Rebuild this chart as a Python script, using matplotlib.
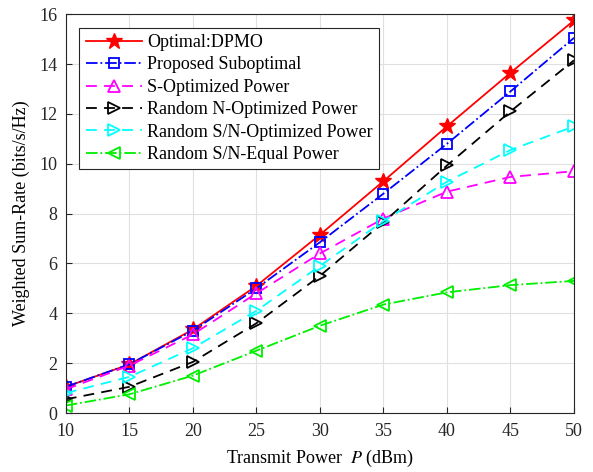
import numpy as np
import matplotlib.pyplot as plt

plt.rcParams['font.family'] = ['Liberation Serif', 'DejaVu Serif']
plt.rcParams['mathtext.fontset'] = 'stix'

power = [10, 15, 20, 25, 30, 35, 40, 45, 50]
optimal = [1.05, 1.95, 3.35, 5.1, 7.15, 9.3, 11.5, 13.65, 15.75]
proposed = [1.05, 1.95, 3.3, 5.0, 6.85, 8.8, 10.8, 12.9, 15.05]
s_opt = [0.95, 1.9, 3.15, 4.8, 6.4, 7.8, 8.88, 9.47, 9.7]
rand_n_opt = [0.55, 1.05, 2.05, 3.6, 5.5, 7.65, 9.93, 12.1, 14.15]
rand_sn_opt = [0.8, 1.45, 2.6, 4.1, 5.9, 7.7, 9.28, 10.55, 11.5]
rand_sn_equal = [0.3, 0.75, 1.5, 2.5, 3.5, 4.35, 4.84, 5.13, 5.3]

fig = plt.figure(figsize=(5.93, 4.72), dpi=100)
ax = fig.add_axes([0.111, 0.125, 0.857, 0.845])

ax.plot(power, optimal, '-', color='red', marker='*', markersize=12, lw=1.3,
        label='Optimal:DPMO')
ax.plot(power, proposed, '-.', color='blue', marker='s', markersize=7, lw=1.3,
        mfc='none', mew=1.3, label='Proposed Suboptimal')
ax.plot(power, s_opt, '--', color='magenta', marker='^', markersize=9, lw=1.3,
        mfc='none', mew=1.3, dashes=(6, 4), label='S-Optimized Power')
ax.plot(power, rand_n_opt, '--', color='black', marker='>', markersize=9, lw=1.3,
        mfc='none', mew=1.3, dashes=(6, 4), label='Random N-Optimized Power')
ax.plot(power, rand_sn_opt, '--', color='cyan', marker='>', markersize=9, lw=1.3,
        mfc='none', mew=1.3, dashes=(6, 4), label='Random S/N-Optimized Power')
ax.plot(power, rand_sn_equal, '-.', color='#00ee00', marker='<', markersize=9, lw=1.3,
        mfc='none', mew=1.3, label='Random S/N-Equal Power')

ax.set_xlim(10, 50)
ax.set_ylim(0, 16)
ax.set_xticks(np.arange(10, 51, 5))
ax.set_yticks(np.arange(0, 17, 2))
ax.grid(True, color='#e0e0e0', lw=0.8)
ax.tick_params(direction='in', labelsize=13, colors='#262626', length=4)
ax.tick_params(axis='x', pad=7)
ax.tick_params(axis='y', pad=6)
for s in ax.spines.values():
    s.set_color('#262626')
    s.set_linewidth(0.8)

ax.set_xlabel('Transmit Power  $P$ (dBm)', fontsize=13, labelpad=6)
ax.set_ylabel('Weighted Sum-Rate (bits/s/Hz)', fontsize=13, labelpad=7)

leg = ax.legend(loc='upper left', fontsize=13, fancybox=False, framealpha=1,
                edgecolor='#262626', borderaxespad=0.75, handlelength=3.1,
                labelspacing=0.3, borderpad=0.35, handletextpad=0.3)
leg.get_frame().set_linewidth(0.8)

fig.savefig('out.png', dpi=100)
